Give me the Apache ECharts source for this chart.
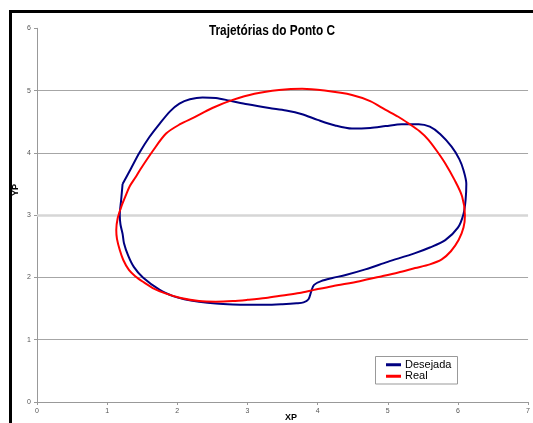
<!DOCTYPE html>
<html>
<head>
<meta charset="utf-8">
<script src="https://cdn.jsdelivr.net/npm/echarts@6/dist/echarts.min.js"></script>
<style>
html,body{margin:0;padding:0;background:#fff;}
#chart{width:533px;height:423px;}
</style>
</head>
<body>
<div id="chart"></div>
<script>
var chartTitle = 'Trajetórias do Ponto C';
var xName = 'XP';
var yName = 'YP';
var seriesNames = ['Desejada', 'Real'];
var xTicks = [0, 1, 2, 3, 4, 5, 6, 7];
var yTicks = [0, 1, 2, 3, 4, 5, 6];

var desejadaX = [1.22,1.34,1.46,1.60,1.75,1.90,2.03,2.18,2.36,2.55,2.74,3.00,3.31,3.55,3.78,4.00,4.25,4.49,4.75,4.97,5.20,5.44,5.60,5.75,5.91,6.02,6.08,6.12,6.11,6.08,6.00,5.82,5.60,5.39,5.00,4.68,4.40,4.21,4.05,3.95,3.91,3.87,3.80,3.70,3.50,3.26,3.00,2.79,2.55,2.31,2.10,1.94,1.75,1.51,1.38,1.30,1.24,1.22,1.19,1.18,1.20,1.22];
var desejadaY = [3.50,3.75,4.00,4.25,4.47,4.67,4.79,4.86,4.89,4.88,4.84,4.78,4.72,4.68,4.62,4.53,4.44,4.39,4.40,4.43,4.46,4.46,4.42,4.30,4.10,3.90,3.72,3.50,3.25,3.02,2.80,2.60,2.48,2.39,2.25,2.13,2.04,1.99,1.94,1.88,1.78,1.65,1.60,1.585,1.57,1.56,1.56,1.565,1.58,1.61,1.65,1.70,1.80,2.00,2.17,2.35,2.55,2.70,2.85,3.00,3.25,3.50];

var realX = [1.47,1.65,1.84,2.04,2.24,2.50,2.79,3.10,3.45,3.78,4.10,4.49,4.75,4.97,5.15,5.30,5.45,5.58,5.70,5.82,5.95,6.06,6.10,6.08,6.01,5.90,5.77,5.60,5.39,5.15,4.92,4.60,4.21,3.95,3.74,3.50,3.26,3.00,2.79,2.55,2.31,2.05,1.84,1.65,1.51,1.40,1.31,1.23,1.18,1.14,1.13,1.15,1.20,1.26,1.32,1.40,1.47];
var realY = [3.73,4.03,4.31,4.46,4.57,4.72,4.85,4.95,5.01,5.03,5.00,4.93,4.83,4.69,4.58,4.47,4.35,4.21,4.03,3.83,3.57,3.30,3.00,2.80,2.60,2.42,2.29,2.21,2.15,2.08,2.02,1.94,1.86,1.80,1.75,1.71,1.67,1.64,1.62,1.61,1.62,1.67,1.74,1.83,1.93,2.02,2.12,2.28,2.44,2.62,2.76,2.95,3.13,3.30,3.46,3.60,3.73];

function pairs(xs, ys){ return xs.map(function(x,i){ return [x, ys[i]]; }); }

var chart = echarts.init(document.getElementById('chart'));
var gridCol = '#a6a6a6';
var option = {
  animation: false,
  backgroundColor: '#fff',
  grid: {left: 37, right: 3.3, top: 28.3, bottom: 21},
  legend: {
    orient: 'vertical', left: 386, top: 359, padding: 0, itemGap: 0,
    itemWidth: 15, itemHeight: 3, icon: 'rect',
    textStyle: {fontFamily: '"Liberation Sans",Arial', fontSize: 11, color: '#000', lineHeight: 11.5, padding: [0,0,0,-1]},
    data: seriesNames
  },
  xAxis: {
    type: 'value', min: xTicks[0], max: xTicks[xTicks.length-1], interval: 1,
    axisLine: {show: true, lineStyle: {color: '#999', width: 1}},
    axisTick: {show: true, length: 3, lineStyle: {color: '#999'}},
    axisLabel: {fontSize: 7, color: '#555', margin: 6, fontFamily: '"Liberation Sans",Arial'},
    splitLine: {show: false}
  },
  yAxis: {
    type: 'value', min: yTicks[0], max: yTicks[yTicks.length-1], interval: 1,
    axisLine: {show: true, lineStyle: {color: '#999', width: 1}},
    axisTick: {show: true, length: 3, lineStyle: {color: '#999'}},
    axisLabel: {fontSize: 7, color: '#555', margin: 6, fontFamily: '"Liberation Sans",Arial'},
    splitLine: {show: true, lineStyle: {width: 1, color: [gridCol, gridCol, gridCol, 'rgba(0,0,0,0)', gridCol, gridCol, 'rgba(0,0,0,0)']}}
  },
  series: [
    {
      name: seriesNames[0], type: 'line', data: pairs(desejadaX, desejadaY),
      smooth: 0.3, showSymbol: false, z: 3,
      lineStyle: {color: '#000080', width: 2}, itemStyle: {color: '#000080'},
      markLine: {silent: true, symbol: 'none', label: {show: false}, lineStyle: {color: '#d6d6d6', width: 2.5, type: 'solid'}, data: [{yAxis: 3}], z: 1}
    },
    {
      name: seriesNames[1], type: 'line', data: pairs(realX, realY),
      smooth: 0.3, showSymbol: false, z: 4,
      lineStyle: {color: '#ff0000', width: 2}, itemStyle: {color: '#ff0000'}
    }
  ],
  graphic: [
    {type: 'rect', shape: {x: 9, y: 10, width: 3, height: 413}, style: {fill: '#000'}, z: 10},
    {type: 'rect', shape: {x: 9, y: 10, width: 524, height: 3}, style: {fill: '#000'}, z: 10},
    {type: 'rect', shape: {x: 375.5, y: 356.5, width: 82, height: 27.5}, style: {fill: '#fff', stroke: '#999', lineWidth: 1}, z: 0},
    {type: 'text', x: 272, y: 31, scaleX: 0.845, style: {text: chartTitle, font: 'bold 14px "Liberation Sans",Arial', fill: '#000', textAlign: 'center', textVerticalAlign: 'middle'}, z: 10},
    {type: 'text', x: 291, y: 418, style: {text: xName, font: 'bold 9px "Liberation Sans",Arial', fill: '#000', textAlign: 'center', textVerticalAlign: 'middle'}, z: 10},
    {type: 'text', x: 16, y: 190, rotation: Math.PI/2, style: {text: yName, font: 'bold 9px "Liberation Sans",Arial', fill: '#000', textAlign: 'center', textVerticalAlign: 'middle'}, z: 10}
  ]
};
chart.setOption(option);
</script>
</body>
</html>
